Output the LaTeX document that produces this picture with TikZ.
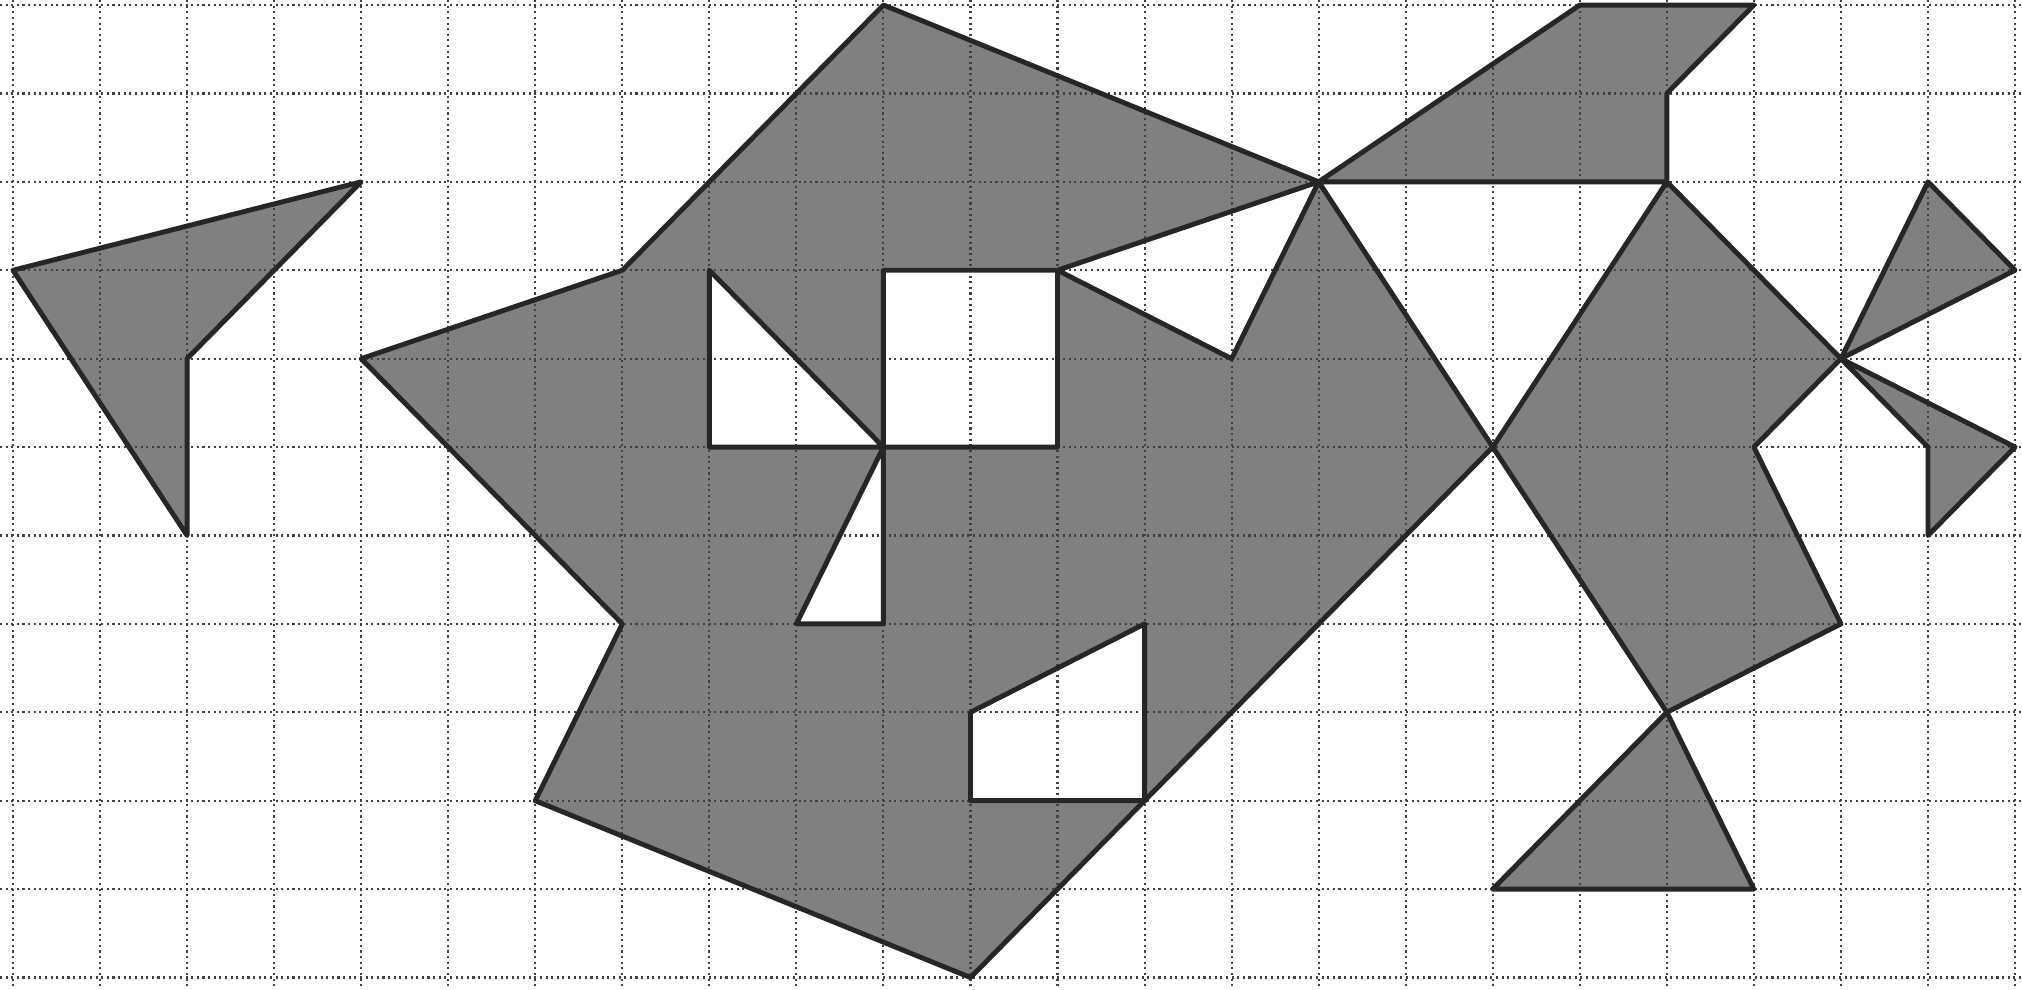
\documentclass[tikz,border=0pt]{standalone}
\usepackage{tikz}

% pieces on the squared sheet, in grid units (y counted downwards)
\newcommand{\leftpiece}{(0,3) -- (4,2) -- (2,4) -- (2,6) -- cycle}
\newcommand{\mainpiece}{(10,0) -- (15,2) -- (17,5) -- (11,11) -- (6,9) -- (7,7) -- (4,4) -- (7,3) -- cycle}
\newcommand{\toppiece}{(15,2) -- (18,0) -- (20,0) -- (19,1) -- (19,2) -- cycle}
\newcommand{\kitepiece}{(19,2) -- (21,4) -- (20,5) -- (21,7) -- (19,8) -- (17,5) -- cycle}
\newcommand{\basepiece}{(19,8) -- (17,10) -- (20,10) -- cycle}
\newcommand{\upperwing}{(21,4) -- (22,2) -- (23,3) -- cycle}
\newcommand{\lowerwing}{(21,4) -- (23,5) -- (22,6) -- (22,5) -- cycle}
\newcommand{\holes}{(8,3) -- (8,5) -- (10,5) -- cycle
  (10,3) -- (12,3) -- (12,5) -- (10,5) -- cycle
  (12,3) -- (15,2) -- (14,4) -- cycle
  (10,5) -- (9,7) -- (10,7) -- cycle
  (11,8) -- (13,7) -- (13,9) -- (11,9) -- cycle}

\begin{document}
\begin{tikzpicture}[
  x=0.8704cm, y=-0.884cm,
  shaded/.style={fill=black!50},
  hole/.style={fill=white},
  edge/.style={draw=black!85, line width=1.4pt, line join=round},
  gridline/.style={densely dotted, draw=black!75, line width=0.6pt}
]
  \useasboundingbox[fill=white] (-0.149,-0.057) rectangle (23.08,11.13);

  % shading
  \fill[shaded] \leftpiece \mainpiece \toppiece \kitepiece \basepiece \upperwing \lowerwing;
  \fill[hole] \holes;

  % squared paper
  \foreach \i in {0,...,23}
    \draw[gridline] (\i,-0.057) -- (\i,11.13);
  \foreach \j in {0,...,11}
    \draw[gridline] (-0.149,\j) -- (23.08,\j);

  % outlines
  \path[edge] \leftpiece \mainpiece \toppiece \kitepiece \basepiece \upperwing \lowerwing;
  \path[edge] \holes;
\end{tikzpicture}
\end{document}
